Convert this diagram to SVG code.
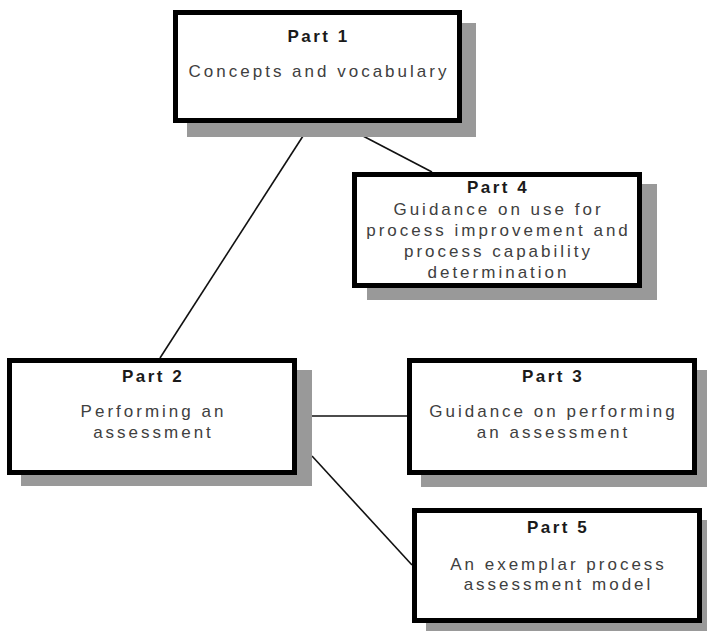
<svg xmlns="http://www.w3.org/2000/svg" width="707" height="631" viewBox="0 0 707 631">
<style>
.shadow{fill:#999999;}
.box{fill:#ffffff;stroke:#000000;stroke-width:5;}
.title{font-family:"Liberation Sans",Arial,sans-serif;font-size:17px;font-weight:bold;fill:#1a1a1a;letter-spacing:2.5px;text-anchor:middle;}
.body{font-family:"Liberation Sans",Arial,sans-serif;font-size:17px;fill:#404040;letter-spacing:3px;text-anchor:middle;}
.conn{stroke:#111111;stroke-width:1.6;fill:none;}
</style>
<rect width="707" height="631" fill="#ffffff"/>
<g id="connectors">
<line class="conn" x1="303" y1="136" x2="160" y2="358"/>
<line class="conn" x1="363" y1="136" x2="432" y2="172"/>
<line class="conn" x1="312" y1="416" x2="408" y2="416" stroke-width="1.3"/>
<line class="conn" x1="312" y1="456" x2="412" y2="565"/>
</g>
<g id="part1">
<rect class="shadow" x="187" y="23" width="289" height="114"/>
<rect class="box" x="175.5" y="12.5" width="284" height="108"/>
<text class="title" x="318.5" y="42">Part 1</text>
<text class="body" x="319" y="77">Concepts and vocabulary</text>
</g>
<g id="part4">
<rect class="shadow" x="367" y="184" width="290" height="116"/>
<rect class="box" x="354.5" y="174.5" width="285" height="111"/>
<text class="title" x="498" y="193">Part 4</text>
<text class="body" x="498.5" y="215">Guidance on use for</text>
<text class="body" x="498.5" y="236">process improvement and</text>
<text class="body" x="498.5" y="257">process capability</text>
<text class="body" x="498.5" y="278">determination</text>
</g>
<g id="part2">
<rect class="shadow" x="21" y="370" width="291" height="116"/>
<rect class="box" x="9.5" y="360.5" width="285" height="112"/>
<text class="title" x="153" y="382">Part 2</text>
<text class="body" x="153.5" y="417">Performing an</text>
<text class="body" x="153.5" y="438">assessment</text>
</g>
<g id="part3">
<rect class="shadow" x="421" y="370" width="291" height="117"/>
<rect class="box" x="409.5" y="360.5" width="285" height="112"/>
<text class="title" x="553" y="382">Part 3</text>
<text class="body" x="553.5" y="417">Guidance on performing</text>
<text class="body" x="553.5" y="438">an assessment</text>
</g>
<g id="part5">
<rect class="shadow" x="426" y="520" width="291" height="116"/>
<rect class="box" x="414.5" y="510.5" width="285" height="110"/>
<text class="title" x="558" y="533">Part 5</text>
<text class="body" x="558.5" y="570">An exemplar process</text>
<text class="body" x="558.5" y="590">assessment model</text>
</g>
</svg>
